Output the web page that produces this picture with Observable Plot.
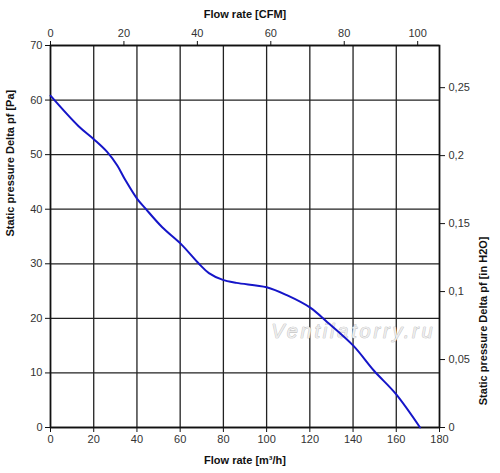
<!DOCTYPE html>
<html>
<head>
<meta charset="utf-8">
<script src="https://cdn.jsdelivr.net/npm/d3@7"></script>
<script src="https://cdn.jsdelivr.net/npm/@observablehq/plot@0.6"></script>
<style>
  html, body { margin: 0; padding: 0; background: #fff; }
  #chart svg { display: block; }
</style>
</head>
<body>
<div id="chart"></div>
<script>
// Fan curve: flow rate [m³/h] vs static pressure [Pa]
const flowM3h = [0, 13, 20.4, 26.2, 30.9, 34.7, 40.1, 44, 51.7, 60.2, 68.7, 73.3, 79.5, 86, 100, 109.6, 120, 128.1, 140.1, 149.7, 159.7, 171];
const pressurePa = [60.8, 55.2, 52.7, 50.5, 48.0, 45.3, 41.9, 40.1, 36.7, 33.7, 30.0, 28.3, 27.1, 26.5, 25.7, 24.2, 22.0, 19.3, 15.0, 10.4, 6.2, 0];

const xTicksM3h = [0, 20, 40, 60, 80, 100, 120, 140, 160, 180];
const yTicksPa = [0, 10, 20, 30, 40, 50, 60, 70];
const xTicksCFM = [0, 20, 40, 60, 80, 100];
const yTicksInH2O = [0, 0.05, 0.1, 0.15, 0.2, 0.25];

const M3H_PER_CFM = 1.699;
const PA_PER_INH2O = 249.09;

const labelBottom = "Flow rate [m³/h]";
const labelTop = "Flow rate [CFM]";
const labelLeft = "Static pressure Delta pf [Pa]";
const labelRight = "Static pressure Delta pf [in H2O]";
const watermark = "Ventilatorry.ru";

const data = flowM3h.map((f, i) => ({flow: f, pressure: pressurePa[i]}));

const gridStyle = {stroke: "#222", strokeOpacity: 1, strokeWidth: 1.3};
const axisStyle = {tickSize: 5, stroke: "#111", fill: "#333", fontSize: 11, label: null};

const chart = Plot.plot({
  width: 500,
  height: 473,
  marginLeft: 50,
  marginRight: 61,
  marginTop: 45,
  marginBottom: 46,
  style: {fontFamily: "Arial, 'Liberation Sans', sans-serif", fontSize: "11px", background: "#fff", color: "#333"},
  x: {type: "linear", domain: [0, 180]},
  y: {type: "linear", domain: [0, 70]},
  marks: [
    Plot.gridX({ticks: xTicksM3h, ...gridStyle}),
    Plot.gridY({ticks: yTicksPa, ...gridStyle}),
    Plot.frame({stroke: "#111", strokeWidth: 1.6}),
    Plot.axisX({anchor: "bottom", ticks: xTicksM3h, tickPadding: 3, ...axisStyle}),
    Plot.axisX({anchor: "top", ticks: xTicksCFM.map(c => c * M3H_PER_CFM),
      tickFormat: d => String(Math.round(d / M3H_PER_CFM)), tickPadding: 4, ...axisStyle}),
    Plot.axisY({anchor: "left", ticks: yTicksPa, tickPadding: 3, ...axisStyle}),
    Plot.axisY({anchor: "right", ticks: yTicksInH2O.map(v => v * PA_PER_INH2O),
      tickFormat: d => String(+(d / PA_PER_INH2O).toFixed(2)).replace(".", ","), tickPadding: 4, ...axisStyle}),
    Plot.text([labelTop], {frameAnchor: "top", dy: -35, fontWeight: "bold", fontSize: 11, fill: "#111"}),
    Plot.text([labelBottom], {frameAnchor: "bottom", dy: 36, fontWeight: "bold", fontSize: 11, fill: "#111"}),
    Plot.text([labelLeft], {frameAnchor: "left", dx: -40, rotate: -90, fontWeight: "bold", fontSize: 11, fill: "#111"}),
    Plot.text([labelRight], {frameAnchor: "right", dx: 44, rotate: -90, fontWeight: "bold", fontSize: 11, fill: "#111"}),
    Plot.text([watermark], {frameAnchor: "bottom-right", dx: -4, dy: -90, textAnchor: "end",
      fontSize: 20, fontStyle: "italic", fill: "#ececec", stroke: "#b5b5b5", strokeWidth: 0.7}),
    Plot.line(data, {x: "flow", y: "pressure", stroke: "#1515c8", strokeWidth: 2, curve: "catmull-rom"})
  ]
});

// letter spacing for the watermark text
d3.select(chart).selectAll("text").filter(function() { return this.textContent === watermark; })
  .attr("letter-spacing", "2.8px");

document.getElementById("chart").appendChild(chart);
</script>
</body>
</html>
